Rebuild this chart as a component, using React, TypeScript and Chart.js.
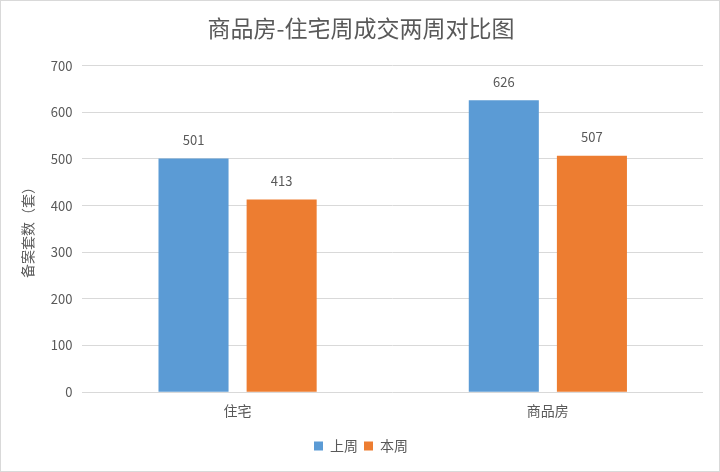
import React, { useEffect, useRef } from "react";
import { Chart, registerables } from "chart.js";

Chart.register(...registerables);

const categories = ["住宅", "商品房"];
const lastWeek = [501, 626];
const thisWeek = [413, 507];
const seriesNames = ["上周", "本周"];
const chartTitle = "商品房-住宅周成交两周对比图";
const yTitle = "备案套数（套）";

const FONT = "'Noto Sans CJK SC', 'Noto Sans', sans-serif";
const TEXT = "#595959";

const valueLabels = {
  id: "valueLabels",
  afterDatasetsDraw(chart: any) {
    const ctx = chart.ctx;
    ctx.save();
    ctx.fillStyle = TEXT;
    ctx.font = `13px ${FONT}`;
    ctx.textAlign = "center";
    ctx.textBaseline = "bottom";
    chart.data.datasets.forEach((ds: any, i: number) => {
      const meta = chart.getDatasetMeta(i);
      meta.data.forEach((bar: any, j: number) => {
        ctx.fillText(String(ds.data[j]), bar.x, bar.y - 12);
      });
    });
    ctx.restore();
  },
};

export default function App() {
  const ref = useRef<HTMLCanvasElement>(null);
  useEffect(() => {
    document.body.style.margin = "0";
    const chart = new Chart(ref.current!, {
      type: "bar",
      data: {
        labels: categories,
        datasets: [
          { label: seriesNames[0], data: lastWeek, backgroundColor: "#5B9BD5" },
          { label: seriesNames[1], data: thisWeek, backgroundColor: "#ED7D31" },
        ],
      },
      options: {
        animation: false,
        responsive: false,
        devicePixelRatio: 1,
        layout: { padding: { left: 18, right: 16, top: 0, bottom: 8 } },
        datasets: { bar: { categoryPercentage: 0.568, barPercentage: 0.795 } },
        plugins: {
          title: {
            display: true,
            text: chartTitle,
            color: TEXT,
            font: { family: FONT, size: 23, weight: "normal" },
            padding: { top: 13, bottom: 24 },
          },
          legend: {
            position: "bottom",
            labels: {
              color: TEXT,
              boxWidth: 9,
              boxHeight: 9,
              padding: 6,
              font: { family: FONT, size: 14 },
            },
          },
          tooltip: { enabled: false },
        },
        scales: {
          x: {
            grid: { display: false },
            border: { display: false },
            ticks: { color: TEXT, font: { family: FONT, size: 14 }, padding: 2 },
            afterFit(scale: any) {
              scale.height += 12;
            },
          },
          y: {
            min: 0,
            max: 700,
            ticks: { stepSize: 100, color: TEXT, font: { family: FONT, size: 13 }, padding: 10 },
            grid: { color: "#D9D9D9", drawTicks: false },
            border: { display: false },
            title: {
              display: true,
              text: yTitle,
              color: TEXT,
              font: { family: FONT, size: 14 },
              padding: { top: 0, bottom: 5 },
            },
          },
        },
      },
      plugins: [valueLabels],
    });
    return () => chart.destroy();
  }, []);
  return (
    <div style={{ width: 720, height: 472, border: "1px solid #D9D9D9", boxSizing: "border-box", background: "#fff" }}>
      <canvas ref={ref} width={718} height={470} />
    </div>
  );
}
